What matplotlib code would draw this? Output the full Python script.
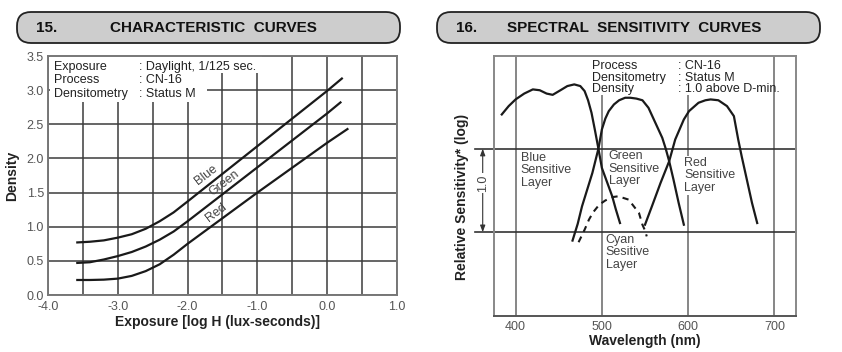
import numpy as np
import matplotlib.pyplot as plt
import matplotlib.transforms as mtransforms
from matplotlib.patches import FancyBboxPatch, Rectangle

plt.rcParams['font.family'] = ['Liberation Sans', 'DejaVu Sans']

# --- 15. characteristic curves (log H vs density) ---
log_h = [-3.58, -3.4, -3.2, -3.0, -2.8, -2.6, -2.4, -2.2, -2.0, -1.0, 0.0]
density_blue = [0.77, 0.78, 0.80, 0.84, 0.89, 0.97, 1.08, 1.21, 1.37, 2.18, 2.99]
density_green = [0.47, 0.48, 0.52, 0.57, 0.63, 0.71, 0.81, 0.93, 1.08, 1.87, 2.66]
density_red = [0.22, 0.22, 0.225, 0.24, 0.28, 0.35, 0.45, 0.59, 0.75, 1.50, 2.23]
end_log_h = [0.21, 0.19, 0.29]
end_density = [3.17, 2.82, 2.43]

# --- 16. spectral sensitivity curves ---
wl_blue = [384, 392, 400, 410, 420, 428, 436, 443, 452, 460, 468, 475, 480, 484, 488,
           492, 496, 500, 506, 512, 516, 521]
sens_blue = [2.41, 2.51, 2.59, 2.66, 2.71, 2.70, 2.66, 2.645, 2.70, 2.75, 2.77, 2.75,
             2.69, 2.58, 2.43, 2.22, 2.0, 1.77, 1.60, 1.43, 1.28, 1.11]
wl_green = [466, 472, 477, 483, 489, 496, 500, 504, 508, 514, 520, 527, 533, 540, 547,
            554, 562, 570, 574, 578, 583, 589, 595]
sens_green = [0.90, 1.10, 1.31, 1.51, 1.71, 2.0, 2.23, 2.36, 2.45, 2.53, 2.58, 2.61,
              2.61, 2.60, 2.58, 2.49, 2.31, 2.13, 2.0, 1.85, 1.63, 1.35, 1.09]
wl_red = [550, 558, 568, 578, 585, 595, 601, 612, 620, 626, 635, 645, 653, 658, 662,
          668, 674, 680]
sens_red = [1.09, 1.31, 1.59, 1.85, 2.11, 2.35, 2.45, 2.55, 2.58, 2.59, 2.58, 2.51,
            2.39, 2.11, 1.91, 1.63, 1.35, 1.11]
wl_cyan = [473, 480, 485, 490, 497, 504, 512, 519, 525, 531, 537, 543, 547, 550, 552]
sens_cyan = [0.88, 1.03, 1.15, 1.24, 1.33, 1.38, 1.42, 1.43, 1.41, 1.39, 1.31, 1.23,
             1.09, 1.02, 0.95]

fig = plt.figure(figsize=(8.42, 3.52), dpi=100)


def title_box(x0, num, title, title_x):
    box = FancyBboxPatch((x0, 3.09), 3.83, 0.31,
                         boxstyle='round,pad=0,rounding_size=0.14',
                         transform=fig.dpi_scale_trans,
                         facecolor='#cdcdcd', edgecolor='#222222', lw=1.3)
    fig.add_artist(box)
    fig.text(x0 + 0.19, 3.245, num, transform=fig.dpi_scale_trans,
             fontsize=11, weight='bold', va='center', color='#111')
    fig.text(title_x, 3.245, title, transform=fig.dpi_scale_trans,
             fontsize=11, weight='bold', va='center', color='#111')


title_box(0.17, '15.', 'CHARACTERISTIC  CURVES', 1.10)
title_box(4.37, '16.', 'SPECTRAL  SENSITIVITY  CURVES', 5.07)

# ---------------- left chart ----------------
ax1 = fig.add_axes([0.0570, 0.1619, 0.4145, 0.6790])
ax1.set_xlim(-4, 1)
ax1.set_ylim(0, 3.5)
ax1.set_xticks(np.arange(-4, 1.01, 1.0))
ax1.set_xticks(np.arange(-4, 1.01, 0.5), minor=True)
ax1.set_xticklabels(['%.1f' % v for v in np.arange(-4, 1.01, 1.0)])
ax1.set_yticks(np.arange(0, 3.51, 0.5))
ax1.set_yticklabels(['%.1f' % v for v in np.arange(0, 3.51, 0.5)])
ax1.grid(which='both', color='#3c3c3c', lw=1.1)
ax1.tick_params(which='both', length=0, labelsize=9, labelcolor='#555555')
ax1.tick_params(axis='x', pad=4.5)
ax1.tick_params(axis='y', pad=3)
for s in ax1.spines.values():
    s.set_color('#777777')
    s.set_linewidth(1.4)

for ys, ex, ey in zip([density_blue, density_green, density_red], end_log_h, end_density):
    ax1.plot(log_h + [ex], ys + [ey], color='#1a1a1a', lw=1.6, zorder=3)

ax1.add_patch(Rectangle((-3.97, 3.25), 3.03, 0.25, fc='white', ec='none', zorder=1.6))
ax1.add_patch(Rectangle((-3.97, 2.83), 2.25, 0.67, fc='white', ec='none', zorder=1.6))
info1 = [('Exposure', ': Daylight, 1/125 sec.'), ('Process', ': CN-16'),
         ('Densitometry', ': Status M')]
for (k, v), y in zip(info1, [3.34, 3.15, 2.95]):
    ax1.text(-3.91, y, k, fontsize=9, va='center', color='#222', zorder=4)
    ax1.text(-2.69, y, v, fontsize=9, va='center', color='#222', zorder=4)

for lab, x, y in [('Blue', -1.73, 1.76), ('Green', -1.48, 1.64), ('Red', -1.59, 1.20)]:
    ax1.text(x, y, lab, rotation=37.5, ha='center', va='center', fontsize=9,
             color='#444', rotation_mode='anchor', zorder=4)

fig.text(12 / 842, (352 - 176) / 352, 'Density', rotation=90, ha='center', va='center',
         fontsize=10, weight='bold', color='#222')
fig.text(217 / 842, (352 - 322) / 352, 'Exposure [log H (lux-seconds)]', ha='center',
         va='center', fontsize=10, weight='bold', color='#222')

# ---------------- right chart ----------------
ax2 = fig.add_axes([0.5867, 0.1031, 0.3587, 0.7378])
ax2.set_xlim(375, 725)
ax2.set_ylim(0, 3.11)
ax2.set_xticks([400, 500, 600, 700])
ax2.set_yticks([])
ax2.grid(axis='x', color='#666666', lw=1.1)
ax2.tick_params(length=0, pad=4, labelsize=9, labelcolor='#555555')
for s in ax2.spines.values():
    s.set_color('#888888')
    s.set_linewidth(1.4)
ax2.spines['bottom'].set_color('#555555')

for yv in [1.0, 2.0]:
    ax2.axhline(yv, xmin=-0.063, xmax=1, color='#333333', lw=1.2, clip_on=False, zorder=2)

ax2.plot(wl_blue, sens_blue, color='#1a1a1a', lw=1.6, zorder=3)
ax2.plot(wl_green, sens_green, color='#1a1a1a', lw=1.6, zorder=3)
ax2.plot(wl_red, sens_red, color='#1a1a1a', lw=1.6, zorder=3)
ax2.plot(wl_cyan, sens_cyan, color='#1a1a1a', lw=1.5, ls=(0, (3, 2.5)), zorder=3)

ax2.add_patch(Rectangle((486, 2.64), 204, 0.47, fc='white', ec='none', zorder=1.6))
info2 = [('Process', ': CN-16'), ('Densitometry', ': Status M'),
         ('Density', ': 1.0 above D-min.')]
for (k, v), y in zip(info2, [2.99, 2.85, 2.71]):
    ax2.text(488.1, y, k, fontsize=9, va='center', color='#222', zorder=4)
    ax2.text(588.2, y, v, fontsize=9, va='center', color='#222', zorder=4)

layer_labels = [('Blue\nSensitive\nLayer', 406.0, 1.96, None),
                ('Green\nSensitive\nLayer', 508.1, 1.98, None),
                ('Red\nSensitive\nLayer', 595.6, 1.90, dict(fc='white', ec='none', pad=0.5)),
                ('Cyan\nSesitive\nLayer', 504.3, 0.98, None)]
for txt, x, y, bb in layer_labels:
    ax2.text(x, y, txt, fontsize=9, va='top', ha='left', color='#444', linespacing=1.05,
             bbox=bb, zorder=4)

blend = mtransforms.blended_transform_factory(ax2.transAxes, ax2.transData)
ax2.annotate('', xy=(-0.0374, 2.0), xytext=(-0.0374, 1.0), xycoords=blend, textcoords=blend,
             arrowprops=dict(arrowstyle='<|-|>,head_length=0.4,head_width=0.15', color='#333',
                             lw=0.8, shrinkA=0, shrinkB=0), annotation_clip=False)
ax2.text(-0.0374, 1.59, '1.0', transform=blend, rotation=90, ha='center', va='center',
         fontsize=9, color='#444', bbox=dict(fc='white', ec='none', pad=1), clip_on=False)

fig.text(462 / 842, (352 - 197) / 352, 'Relative Sensitivity* (log)', rotation=90,
         ha='center', va='center', fontsize=10, weight='bold', color='#222')
fig.text(645 / 842, (352 - 341) / 352, 'Wavelength (nm)', ha='center', va='center',
         fontsize=10, weight='bold', color='#222')

fig.savefig('out.png', dpi=100)
